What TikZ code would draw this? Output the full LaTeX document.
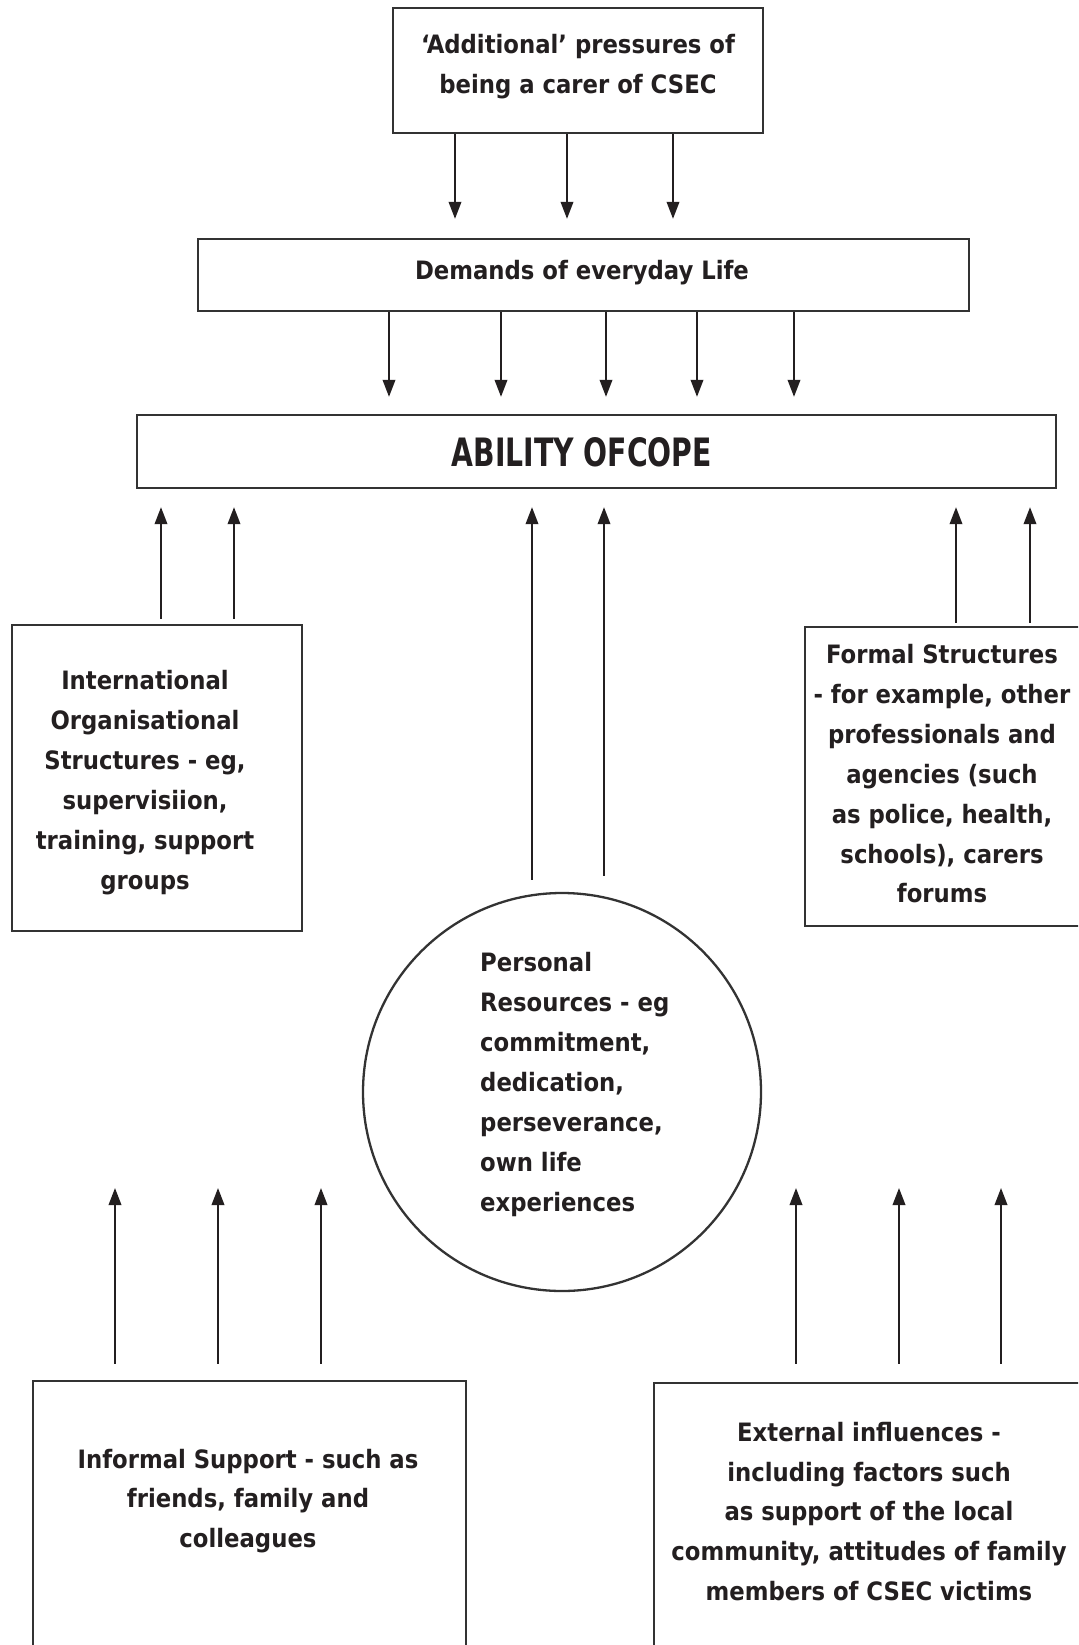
\documentclass[tikz,border=0pt]{standalone}
\usepackage{fontspec}
\usepackage{graphicx}
\setmainfont{DejaVu Sans Condensed}
\usetikzlibrary{arrows.meta}
\definecolor{ink}{HTML}{231F20}
\definecolor{edge}{HTML}{333333}
\begin{document}
\begin{tikzpicture}[x=1pt,y=-1pt,
  box/.style={draw=edge, line width=2.3pt, rectangle, inner sep=0pt},
  txt/.style={align=center, font=\fontsize{25.3}{39.85}\selectfont\bfseries, text=ink, inner sep=0pt},
  arr/.style={draw=ink, line width=2pt, -{Triangle[length=17pt,width=12.5pt]}}]
\fill[white] (0,0) rectangle (1078,1645);
\useasboundingbox (0,0) rectangle (1078,1645);
\clip (0,0) rectangle (1078,1645);

% boxes
\node[box, minimum width=370pt, minimum height=125pt] (top) at (578,70.5) {};
\node[txt] (toptext) at (578,67) {‘Additional’ pressures of\\being a carer of CSEC};

\node[box, minimum width=771pt, minimum height=72pt] (dem) at (583.5,275) {};
\node[txt] (demtext) at (582,273) {Demands of everyday Life};

\node[box, minimum width=919pt, minimum height=73pt] (abil) at (596.5,451.5) {};
\node[inner sep=0pt, text=ink] (abiltext) at (582,452) {\resizebox{260pt}{29pt}{\bfseries ABILITY OFCOPE}};

\node[box, minimum width=290pt, minimum height=306pt] (intl) at (157,778) {};
\node[txt] (intltext) at (145,782.5) {International\\Organisational\\Structures - eg,\\supervisiion,\\training, support\\groups};

\node[box, minimum width=300pt, minimum height=299pt] (formal) at (955,776.5) {};
\node[txt] (formaltext) at (942,774) {Formal Structures\\- for example, other\\professionals and\\agencies (such\\as police, health,\\schools), carers\\forums};

\node[draw=edge, line width=2.3pt, circle, minimum size=398pt, inner sep=0pt] (pers) at (562,1092) {};
\node[txt, align=left, anchor=west] (perstext) at (480,1084.5) {Personal\\Resources - eg\\commitment,\\dedication,\\perseverance,\\own life\\experiences};

\node[box, minimum width=433pt, minimum height=330pt] (informal) at (249.5,1546) {};
\node[txt] (informaltext) at (248,1501) {Informal Support - such as\\friends, family and\\colleagues};

\node[box, minimum width=456pt, minimum height=330pt] (external) at (882,1548) {};
\node[txt] (externaltext) at (869,1511.5) {External influences -\\including factors such\\as support of the local\\community, attitudes of family\\members of CSEC victims};

\coordinate (tips) at (0,1188);

% arrows
\foreach \x in {455,567,673}
  \draw[arr, shorten >=19pt] (\x,0 |- top.south) -- (\x,0 |- dem.north);
\foreach \x in {389,501,606,697,794}
  \draw[arr, shorten >=17pt] (\x,0 |- dem.south) -- (\x,0 |- abil.north);
\foreach \x in {161,234}
  \draw[arr, shorten <=5pt, shorten >=18pt] (\x,0 |- intl.north) -- (\x,0 |- abil.south);
\foreach \x in {956,1030}
  \draw[arr, shorten <=3pt, shorten >=18pt] (\x,0 |- formal.north) -- (\x,0 |- abil.south);
\draw[arr, shorten <=12pt, shorten >=18pt] (532,0 |- pers.north) -- (532,0 |- abil.south);
\draw[arr, shorten <=16pt, shorten >=18pt] (604,0 |- pers.north) -- (604,0 |- abil.south);
\foreach \x in {115,218,321}
  \draw[arr, shorten <=16pt] (\x,0 |- informal.north) -- (\x,0 |- tips);
\foreach \x in {796,899,1001}
  \draw[arr, shorten <=18pt] (\x,0 |- external.north) -- (\x,0 |- tips);
\end{tikzpicture}
\end{document}
